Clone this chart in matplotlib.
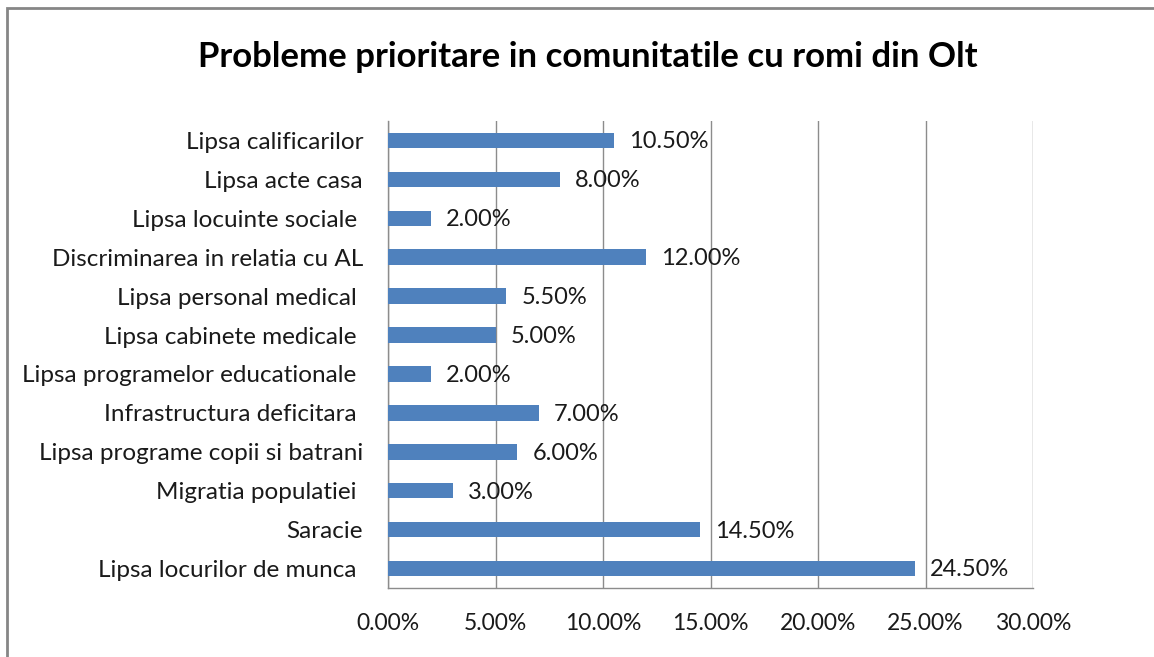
import matplotlib
matplotlib.use("Agg")
import matplotlib.pyplot as plt
from matplotlib.patches import Rectangle
from matplotlib.ticker import FuncFormatter

# categories bottom -> top, values in percent
categories = ["Lipsa locurilor de munca ", "Saracie", "Migratia populatiei ",
              "Lipsa programe copii si batrani", "Infrastructura deficitara ",
              "Lipsa programelor educationale ", "Lipsa cabinete medicale ",
              "Lipsa personal medical ", "Discriminarea in relatia cu AL",
              "Lipsa locuinte sociale ", "Lipsa acte casa", "Lipsa calificarilor"]
values = [24.5, 14.5, 3.0, 6.0, 7.0, 2.0, 5.0, 5.5, 12.0, 2.0, 8.0, 10.5]
xticks = [0, 5, 10, 15, 20, 25, 30]

plt.rcParams['font.family'] = ['Lato', 'DejaVu Sans']
grid_col = '#8c8c8c'
bar_col = '#4f81bd'

fig = plt.figure(figsize=(11.54, 6.57), dpi=100)
fig.patches.append(Rectangle((7/1154, -0.1), 1.2, 1 - 8/657 + 0.1, transform=fig.transFigure,
                             fill=False, edgecolor='#868686', linewidth=2))

ax = fig.add_axes([388/1154, 1 - 588/657, (1033 - 388)/1154, (588 - 121)/657])
y = list(range(len(categories)))
ax.barh(y, values, height=0.4, color=bar_col, zorder=3)
for yi, v in zip(y, values):
    ax.annotate(f"{v:.2f}%", (v, yi), xytext=(11, -1), textcoords='offset points',
                va='center', ha='left', fontsize=17, color='#1a1a1a')

ax.set_xlim(0, 30)
ax.set_ylim(-0.5, len(categories) - 0.5)
ax.set_xticks(xticks)
ax.xaxis.set_major_formatter(FuncFormatter(lambda x, p: f"{x:.2f}%"))
ax.set_yticks(y)
ax.set_yticklabels(categories)
ax.tick_params(axis='y', length=0, pad=18, labelsize=17.5, labelcolor='#1a1a1a')
ax.tick_params(axis='x', length=0, pad=18, labelsize=16.5, labelcolor='#1a1a1a')
ax.grid(axis='x', color=grid_col, linewidth=1, zorder=0)
ax.spines['top'].set_visible(False)
ax.spines['right'].set_visible(False)
for s in ['left', 'bottom']:
    ax.spines[s].set_color(grid_col)
    ax.spines[s].set_linewidth(1)

fig.text(588/1154, 1 - 57/657, "Probleme prioritare in comunitatile cu romi din Olt",
         ha='center', va='center', fontsize=25, fontweight='bold')

fig.savefig("out.png", dpi=100)
